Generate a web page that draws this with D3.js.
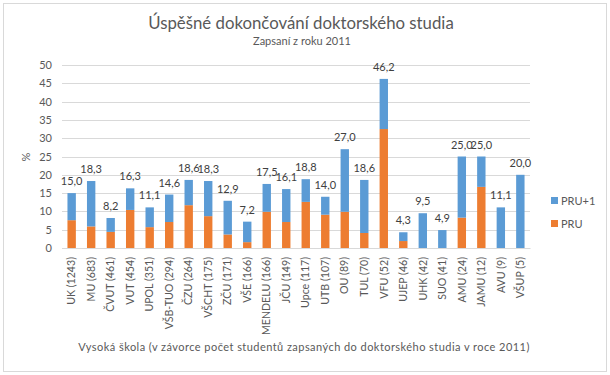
<!DOCTYPE html>
<html>
<head>
<meta charset="utf-8">
<script src="https://cdn.jsdelivr.net/npm/d3@7"></script>
<style>
  body { margin: 0; background: #fff; }
  text { font-family: Lato, "Open Sans", sans-serif; }
</style>
</head>
<body>
<div id="chart"></div>
<script>
// universities (with number of enrolled PhD students in 2011)
var schools = ["UK (1243)", "MU (683)", "ČVUT (461)", "VUT (454)", "UPOL (351)",
  "VŠB-TUO (294)", "ČZU (264)", "VŠCHT (175)", "ZČU (171)", "VŠE (166)",
  "MENDELU (166)", "JČU (149)", "Upce (117)", "UTB (107)", "OU (89)", "TUL (70)",
  "VFU (52)", "UJEP (46)", "UHK (42)", "SUO (41)", "AMU (24)", "JAMU (12)",
  "AVU (9)", "VŠUP (5)"];

// finished within standard length (PRU)
var pru = [7.6, 5.9, 4.4, 10.4, 5.7, 7.1, 11.7, 8.7, 3.7, 1.6,
  9.9, 7.1, 12.6, 9.1, 9.9, 4.1, 32.5, 1.9, 0, 0, 8.3, 16.7, 0, 0];

// total incl. one extra year (PRU+1), shown as labels
var total = [15.0, 18.3, 8.2, 16.3, 11.1, 14.6, 18.6, 18.3, 12.9, 7.2,
  17.5, 16.1, 18.8, 14.0, 27.0, 18.6, 46.2, 4.3, 9.5, 4.9, 25.0, 25.0, 11.1, 20.0];

var yTicks = [0, 5, 10, 15, 20, 25, 30, 35, 40, 45, 50];

var seriesNames = ["PRU", "PRU+1"];
var colors = {"PRU": "#ed7d31", "PRU+1": "#5b9bd5"};

// build table for the stack
var table = schools.map(function(s, i) {
  return {"name": s, "PRU": pru[i], "PRU+1": +(total[i] - pru[i]).toFixed(1), "total": total[i]};
});

var W = 610, H = 375;
var margin = {top: 65, right: 80, bottom: 127, left: 62},
    width = W - margin.left - margin.right,
    height = H - margin.top - margin.bottom;

var svg = d3.select("#chart").append("svg")
    .attr("width", W)
    .attr("height", H);

// outer frame
svg.append("rect")
    .attr("x", 3.5).attr("y", 3.5)
    .attr("width", W - 7).attr("height", H - 7)
    .attr("fill", "#fff")
    .attr("stroke", "#d9d9d9");

// titles
svg.append("text")
    .attr("x", 301).attr("y", 29)
    .attr("text-anchor", "middle")
    .style("font-size", "16.8px")
    .style("fill", "#595959")
    .text("Úspěšné dokončování doktorského studia");

svg.append("text")
    .attr("x", 302).attr("y", 45)
    .attr("text-anchor", "middle")
    .style("font-size", "11px")
    .style("fill", "#595959")
    .text("Zapsaní z roku 2011");

var g = svg.append("g")
    .attr("transform", "translate(" + margin.left + "," + margin.top + ")");

// scales
var x = d3.scaleBand()
    .domain(schools)
    .range([0, width])
    .paddingInner(0.57)
    .paddingOuter(0.28);

var y = d3.scaleLinear()
    .domain([0, 50])
    .range([height, 0]);

// gridlines
g.append("g")
    .selectAll("line")
    .data(yTicks)
  .enter().append("line")
    .attr("x1", 0).attr("x2", width)
    .attr("y1", function(d) { return Math.round(y(d)) + 0.5; })
    .attr("y2", function(d) { return Math.round(y(d)) + 0.5; })
    .attr("stroke", "#d9d9d9");

// y axis
var yAxis = g.append("g")
    .call(d3.axisLeft(y).tickValues(yTicks).tickSize(0).tickPadding(10));
yAxis.select(".domain").remove();
yAxis.selectAll("text")
    .style("font-size", "11px")
    .style("fill", "#595959")
    .style("font-family", "Lato, sans-serif");

svg.append("text")
    .attr("transform", "translate(30," + 157 + ") rotate(-90)")
    .attr("text-anchor", "middle")
    .style("font-size", "11px")
    .style("fill", "#595959")
    .text("%");

// stacked bars
var stack = d3.stack().keys(seriesNames)(table);

g.selectAll(".serie")
    .data(stack)
  .enter().append("g")
    .attr("fill", function(d) { return colors[d.key]; })
  .selectAll("rect")
    .data(function(d) { return d; })
  .enter().append("rect")
    .attr("x", function(d) { return x(d.data.name); })
    .attr("width", x.bandwidth())
    .attr("y", function(d) { return y(d[1]); })
    .attr("height", function(d) { return y(d[0]) - y(d[1]); });

// x axis
var xAxis = g.append("g")
    .attr("transform", "translate(0," + height + ")")
    .call(d3.axisBottom(x).tickSize(0));
xAxis.select(".domain").attr("stroke", "#d9d9d9");
xAxis.selectAll("text")
    .attr("transform", "rotate(-90)")
    .attr("x", -9)
    .attr("y", 0)
    .attr("dy", "0.35em")
    .attr("text-anchor", "end")
    .style("font-size", "10.6px")
    .style("fill", "#595959")
    .style("font-family", "Lato, sans-serif");

// value labels
g.selectAll(".label")
    .data(table)
  .enter().append("text")
    .attr("class", "label")
    .attr("x", function(d) { return x(d.name) + x.bandwidth() / 2; })
    .attr("y", function(d) { return y(d.total) - 8; })
    .attr("text-anchor", "middle")
    .style("font-size", "11px")
    .style("fill", "#404040")
    .text(function(d) { return d.total.toFixed(1).replace(".", ","); });

// x axis title
svg.append("text")
    .attr("x", 304).attr("y", 351)
    .attr("text-anchor", "middle")
    .style("font-size", "11px")
    .style("letter-spacing", "0.45px")
    .style("fill", "#595959")
    .text("Vysoká škola (v závorce počet studentů zapsaných do doktorského studia v roce 2011)");

// legend
var legend = svg.append("g")
    .selectAll("g")
    .data(["PRU+1", "PRU"])
  .enter().append("g")
    .attr("transform", function(d, i) { return "translate(551," + (197 + i * 23) + ")"; });

legend.append("rect")
    .attr("width", 7).attr("height", 7)
    .attr("fill", function(d) { return colors[d]; });

legend.append("text")
    .attr("x", 10).attr("y", 4)
    .attr("dy", "0.35em")
    .style("font-size", "11px")
    .style("fill", "#595959")
    .text(function(d) { return d; });
</script>
</body>
</html>
